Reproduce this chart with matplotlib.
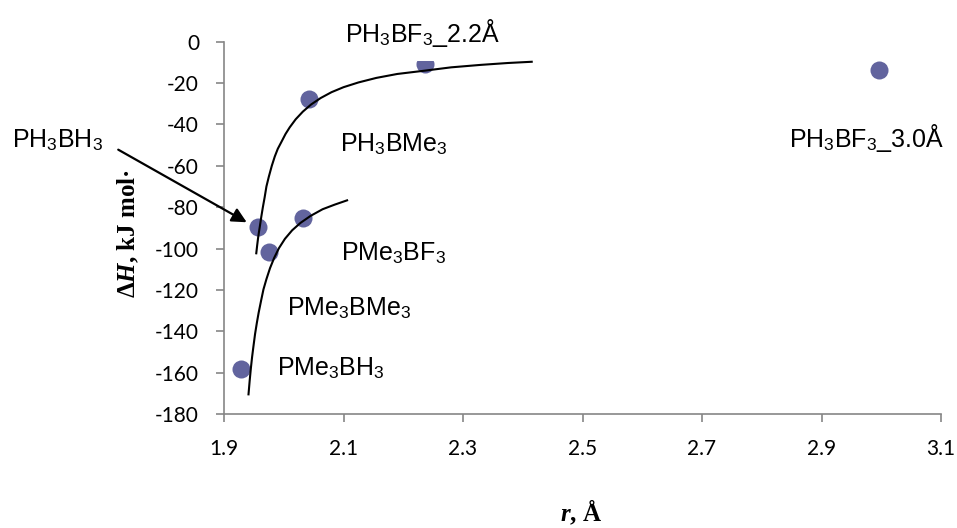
import matplotlib
matplotlib.use("Agg")
import matplotlib.pyplot as plt

plt.rcParams["font.family"] = ["Liberation Sans", "DejaVu Sans"]
plt.rcParams["mathtext.fontset"] = "custom"
plt.rcParams["mathtext.rm"] = "Liberation Sans"
plt.rcParams["mathtext.it"] = "Liberation Serif:italic:bold"
plt.rcParams["mathtext.bf"] = "Liberation Serif:bold"
plt.rcParams["mathtext.bfit"] = "Liberation Serif:italic:bold"

# Adduct bond length r (Å) and complexation enthalpy ΔH (kJ/mol)
adducts = ["PH$_3$BF$_3$_2.2Å", "PH$_3$BMe$_3$", "PH$_3$BH$_3$", "PMe$_3$BF$_3$",
           "PMe$_3$BMe$_3$", "PMe$_3$BH$_3$", "PH$_3$BF$_3$_3.0Å"]
r_values = [2.236, 2.042, 1.957, 2.033, 1.976, 1.928, 2.997]
dH_values = [-10.8, -27.5, -89.7, -85.3, -101.5, -158.4, -13.6]

# Guide curves for the PH3 and PMe3 families
ph3_curve_r = [1.954, 1.9555, 1.957, 1.9585, 1.960, 1.9625, 1.965, 1.968, 1.971, 1.975,
               1.980, 1.985, 1.990, 1.996, 2.003, 2.010, 2.020, 2.032, 2.046, 2.062,
               2.080, 2.100, 2.125, 2.155, 2.190, 2.236, 2.280, 2.330, 2.375, 2.415]
ph3_curve_dH = [-102.3, -98.5, -95.0, -92.0, -89.3, -84.5, -80.1, -75.3, -70.0, -65.3,
                -60.0, -55.5, -51.8, -48.5, -44.6, -41.4, -37.5, -33.8, -30.3, -27.2,
                -24.4, -22.0, -19.7, -17.5, -15.6, -14.0, -12.4, -11.2, -10.3, -9.7]
pme3_curve_r = [1.941, 1.943, 1.945, 1.947, 1.949, 1.952, 1.955, 1.958, 1.962, 1.966,
                1.971, 1.977, 1.984, 1.992, 2.002, 2.014, 2.028, 2.045, 2.065, 2.085,
                2.106]
pme3_curve_dH = [-170.5, -163.8, -157.8, -152.5, -147.9, -141.3, -135.9, -131.0, -125.3,
                 -119.8, -114.8, -109.5, -104.5, -99.8, -95.3, -91.2, -87.6, -84.2,
                 -81.0, -78.8, -76.7]

x_ticks = [1.9, 2.1, 2.3, 2.5, 2.7, 2.9, 3.1]
y_ticks = [0, -20, -40, -60, -80, -100, -120, -140, -160, -180]

fig = plt.figure(figsize=(9.57, 5.28), dpi=100)
ax = fig.add_axes([224 / 957, 1 - 414 / 528, (941 - 224) / 957, (414 - 41.7) / 528])

ax.scatter(r_values, dH_values, s=18 ** 2 * 0.52, color="#62649E", zorder=2, linewidths=0)
ax.plot(ph3_curve_r, ph3_curve_dH, color="black", lw=1.5, zorder=3,
        solid_joinstyle="round")
ax.plot(pme3_curve_r, pme3_curve_dH, color="black", lw=1.5, zorder=3,
        solid_joinstyle="round")

ax.set_xlim(1.9, 3.1)
ax.set_ylim(-180, 0)
ax.set_xticks(x_ticks)
ax.set_xticklabels([f"{v:.1f}" for v in x_ticks])
ax.set_yticks(y_ticks)
ax.set_yticklabels([str(v) for v in y_ticks])

grey = "#868686"
for side in ("top", "right"):
    ax.spines[side].set_visible(False)
for side in ("left", "bottom"):
    ax.spines[side].set_color(grey)
    ax.spines[side].set_linewidth(1.2)
ax.tick_params(axis="both", direction="out", length=6, width=1.2, color=grey)
ax.tick_params(axis="y", pad=12)
ax.tick_params(axis="x", pad=12)
for lab in ax.get_xticklabels() + ax.get_yticklabels():
    lab.set_fontfamily("Lato")
    lab.set_fontsize(15)

# Compound labels (left edge, baseline)
label_pos = {
    adducts[0]: (2.1025, -0.1),
    adducts[1]: (2.094, -53.0),
    adducts[2]: (1.545, -51.1),
    adducts[3]: (2.095, -105.8),
    adducts[4]: (2.005, -132.5),
    adducts[5]: (1.988, -161.1),
    adducts[6]: (2.846, -51.1),
}
for name, (lx, ly) in label_pos.items():
    kw = {}
    if name == adducts[0]:
        kw["bbox"] = dict(boxstyle="square,pad=0.5", fc="white", ec="none")
    ax.text(lx, ly, name, fontsize=18, ha="left", va="baseline", zorder=5,
            clip_on=False, **kw)

ax.annotate("", xy=(1.938, -87.3), xytext=(1.723, -52.2),
            arrowprops=dict(arrowstyle="-|>", color="black", lw=1.6, mutation_scale=22,
                            shrinkA=0, shrinkB=0),
            annotation_clip=False, zorder=4)

fig.text(128 / 957, 1 - 234 / 528, r"Δ$\mathbfit{H}$, kJ mol·", rotation=90,
         ha="center", va="center", fontsize=18, fontweight="bold",
         fontfamily="Liberation Serif")
fig.text(581 / 957, 1 - 512 / 528, r"$\mathbfit{r}$, Å", ha="center", va="center",
         fontsize=18, fontweight="bold", fontfamily="Liberation Serif")

fig.savefig("out.png", dpi=100)
